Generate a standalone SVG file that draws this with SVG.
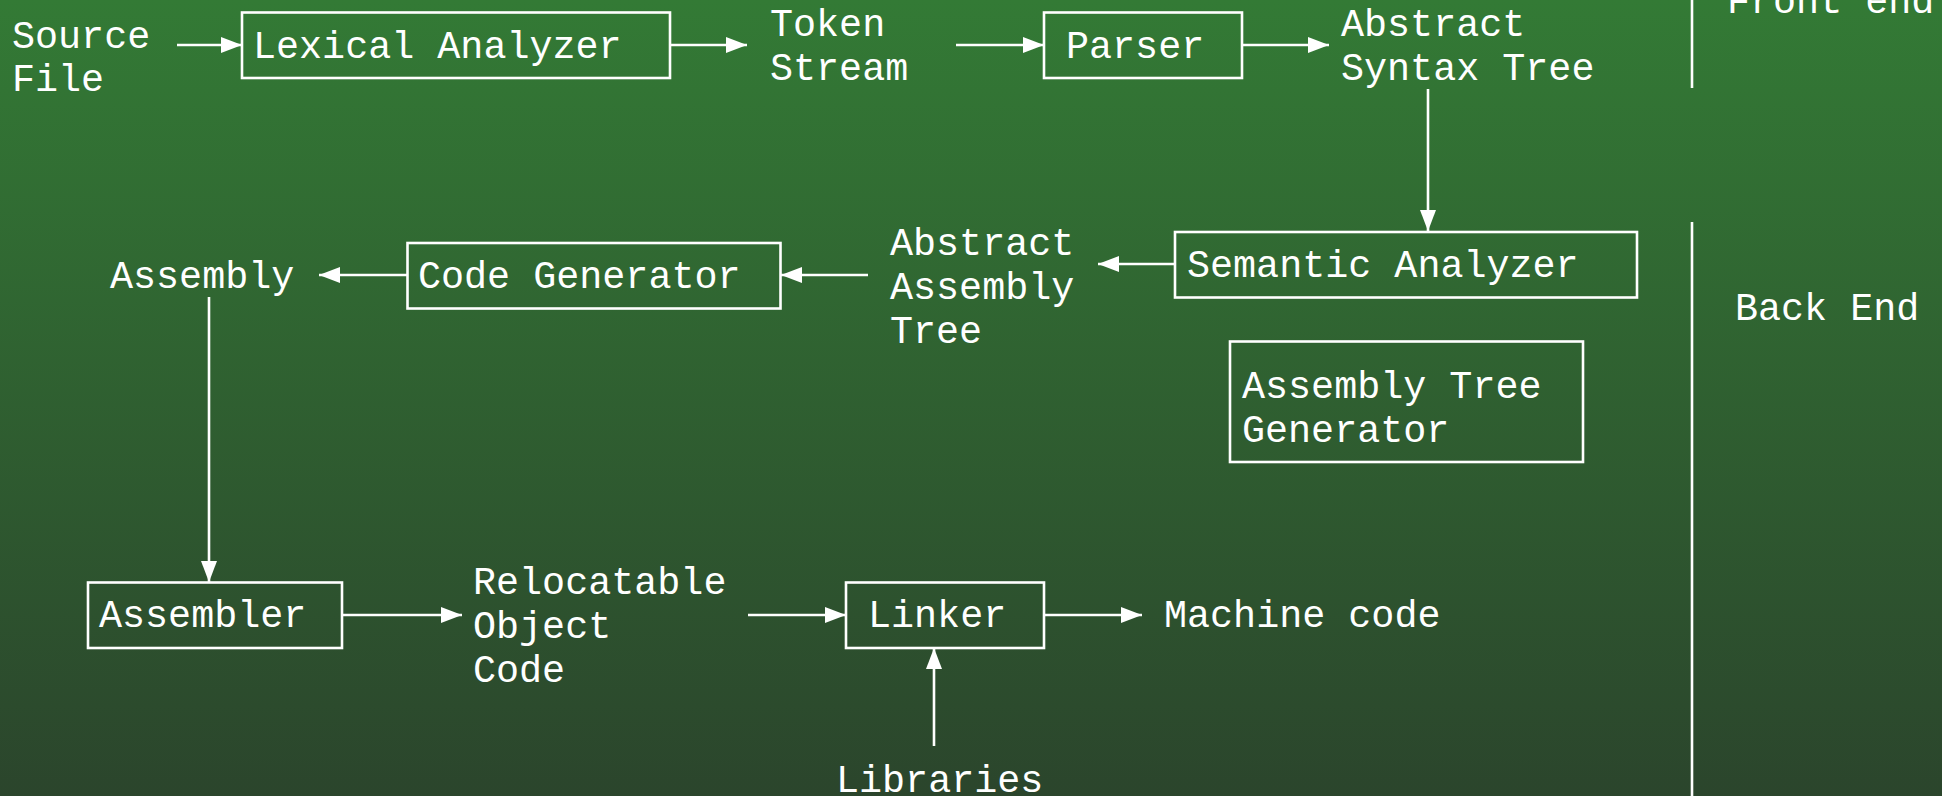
<svg xmlns="http://www.w3.org/2000/svg" width="1942" height="796" viewBox="0 0 1942 796">
<defs>
<linearGradient id="bg" x1="0" y1="0" x2="0" y2="1">
<stop offset="0" stop-color="#337a35"/>
<stop offset="1" stop-color="#2b452c"/>
</linearGradient>
<marker id="ah" markerUnits="userSpaceOnUse" markerWidth="22" markerHeight="16" refX="21" refY="8" orient="auto">
<path d="M0,0 L21,8 L0,16 z" fill="#ffffff"/>
</marker>
</defs>
<style>
text{font-family:"Liberation Mono","Courier New",monospace;font-size:38.4px;fill:#ffffff}
.box{fill:none;stroke:#ffffff;stroke-width:2.6}
.c line{stroke:#ffffff;stroke-width:2.6;marker-end:url(#ah)}
.sep{stroke:#ffffff;stroke-width:2.6}
</style>
<rect x="0" y="0" width="1942" height="796" fill="url(#bg)"/>

<g id="source"><text x="12" y="47.5">Source</text><text x="12" y="90.5">File</text></g>
<g id="lexical"><rect class="box" x="242" y="12.5" width="428" height="65.5"/><text x="253" y="57.5">Lexical Analyzer</text></g>
<g id="token"><text x="770" y="36">Token</text><text x="770" y="80">Stream</text></g>
<g id="parser"><rect class="box" x="1044" y="12.5" width="198" height="65.5"/><text x="1066" y="57.5">Parser</text></g>
<g id="ast"><text x="1341" y="36">Abstract</text><text x="1341" y="80">Syntax Tree</text></g>
<g id="frontend"><text x="1727" y="13">Front end</text></g>
<g id="semantic"><rect class="box" x="1175" y="232" width="462" height="65.5"/><text x="1187" y="277">Semantic Analyzer</text></g>
<g id="aat"><text x="890" y="255">Abstract</text><text x="890" y="299">Assembly</text><text x="890" y="343">Tree</text></g>
<g id="codegen"><rect class="box" x="407.5" y="243" width="373" height="65.5"/><text x="418" y="288">Code Generator</text></g>
<g id="assembly"><text x="110" y="288">Assembly</text></g>
<g id="atg"><rect class="box" x="1230" y="341.5" width="353" height="120.5"/><text x="1242" y="398">Assembly Tree</text><text x="1242" y="442">Generator</text></g>
<g id="backend"><text x="1735" y="320">Back End</text></g>
<g id="assembler"><rect class="box" x="88" y="582.5" width="254" height="65.5"/><text x="99" y="627">Assembler</text></g>
<g id="roc"><text x="473" y="594">Relocatable</text><text x="473" y="638">Object</text><text x="473" y="682">Code</text></g>
<g id="linker"><rect class="box" x="846" y="582.5" width="198" height="65.5"/><text x="868" y="627">Linker</text></g>
<g id="machine"><text x="1164" y="627">Machine code</text></g>
<g id="libraries"><text x="836" y="792">Libraries</text></g>

<g id="separators">
<line class="sep" x1="1692" y1="0" x2="1692" y2="88"/>
<line class="sep" x1="1692" y1="222" x2="1692" y2="796"/>
</g>

<g id="connectors" class="c">
<line x1="177" y1="45" x2="242" y2="45"/>
<line x1="670" y1="45" x2="747" y2="45"/>
<line x1="956" y1="45" x2="1044" y2="45"/>
<line x1="1242" y1="45" x2="1329" y2="45"/>
<line x1="1428" y1="89" x2="1428" y2="231"/>
<line x1="1175" y1="264" x2="1098" y2="264"/>
<line x1="868" y1="275" x2="781" y2="275"/>
<line x1="407.5" y1="275" x2="319" y2="275"/>
<line x1="209" y1="297" x2="209" y2="582"/>
<line x1="342" y1="615" x2="462" y2="615"/>
<line x1="748" y1="615" x2="846" y2="615"/>
<line x1="1044" y1="615" x2="1142" y2="615"/>
<line x1="934" y1="746" x2="934" y2="648"/>
</g>
</svg>
